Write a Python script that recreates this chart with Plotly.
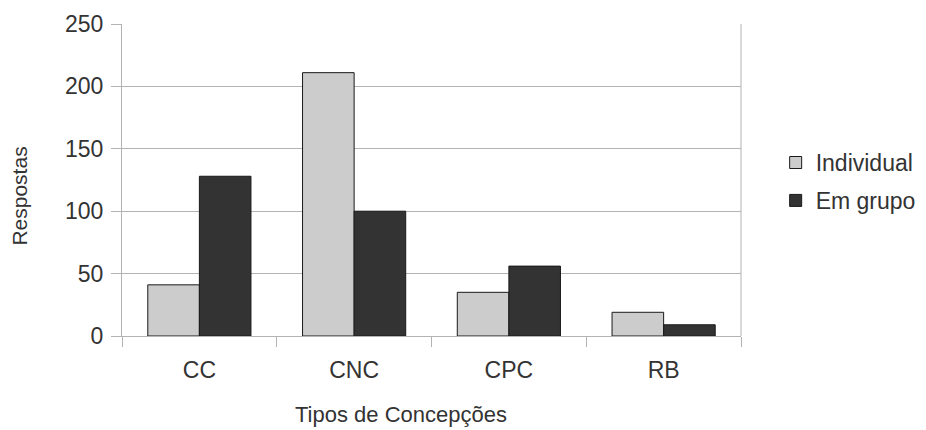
import plotly.graph_objects as go

categories = ["CC", "CNC", "CPC", "RB"]
individual = [41, 211, 35, 19]
em_grupo = [128, 100, 56, 9]
series_names = ["Individual", "Em grupo"]
y_ticks = [0, 50, 100, 150, 200, 250]
x_title = "Tipos de Concepções"
y_title = "Respostas"

fig = go.Figure()
fig.add_trace(go.Bar(x=categories, y=individual, name=series_names[0], legendgroup="a",
                     marker=dict(color="#cccccc", line=dict(color="#1a1a1a", width=1))))
fig.add_trace(go.Bar(x=categories, y=em_grupo, name=series_names[1], legendgroup="b",
                     marker=dict(color="#333333", line=dict(color="#1a1a1a", width=1))))

font_family = "Liberation Sans, Arial, sans-serif"
txt = "#333333"
fig.update_layout(
    width=918, height=422,
    margin=dict(l=114, r=185, t=16, b=94, autoexpand=False),
    paper_bgcolor="white", plot_bgcolor="white",
    barmode="group", bargap=1/3, bargroupgap=0,
    font=dict(family=font_family, color=txt),
    showlegend=True,
    legend=dict(x=1.056, xanchor="left", y=0.495, yanchor="middle",
                font=dict(size=23, color=txt), traceorder="grouped",
                tracegroupgap=5, bgcolor="rgba(0,0,0,0)"),
    xaxis=dict(
        type="category", tickson="boundaries", ticks="outside", ticklen=10,
        tickcolor="#b3b3b3", showline=True, linecolor="#b3b3b3", linewidth=1,
        showgrid=False, tickfont=dict(size=23, color=txt), ticklabelstandoff=13,
    ),
    yaxis=dict(
        range=[0, 250], tickvals=y_ticks, ticks="outside", ticklen=10,
        tickcolor="#b3b3b3", showline=True, linecolor="#b3b3b3", linewidth=1,
        showgrid=True, gridcolor="#b3b3b3", gridwidth=1, zeroline=False,
        tickfont=dict(size=23, color=txt), ticklabelstandoff=3,
    ),
    annotations=[
        dict(text=x_title, xref="paper", yref="paper", x=0.4507, y=-0.253,
             xanchor="center", yanchor="middle", showarrow=False,
             font=dict(size=22, color=txt)),
        dict(text=y_title, xref="paper", yref="paper", x=-0.1648, y=0.45,
             xanchor="center", yanchor="middle", showarrow=False, textangle=-90,
             font=dict(size=21, color=txt)),
    ],
)
fig.add_shape(type="line", xref="paper", yref="paper", x0=1, x1=1, y0=0, y1=1,
              line=dict(color="#b3b3b3", width=1))

fig.write_html("out.html")
